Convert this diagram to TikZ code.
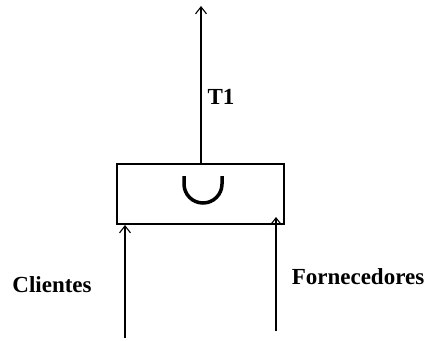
\documentclass[tikz,border=0pt]{standalone}
\usepackage{fontspec}
\setmainfont{Liberation Serif}
\usetikzlibrary{arrows.meta}
\begin{document}
\begin{tikzpicture}[x=1pt,y=-1pt,
  conn/.style={line width=1.1pt,-{Straight Barb[length=7pt,width=11pt,line width=1.1pt]}},
  lbl/.style={font=\bfseries\fontsize{23}{26}\selectfont,inner sep=0pt}]
\useasboundingbox (0,0) rectangle (430,340);
\node[draw,line width=1.3pt,minimum width=167pt,minimum height=60pt,inner sep=0pt] (box) at (200.5,194) {};
\draw[line width=3.5pt] (184,176) -- (184,184) arc[start angle=180,end angle=0,radius=19] -- (222,176);
\coordinate (top) at (201,6);
\coordinate (lb) at (125,338);
\coordinate (lt) at (125,225);
\coordinate (rb) at (276,331);
\coordinate (rt) at (276,217);
\draw[conn] (box.north -| top) -- (top);
\draw[conn] (lb) -- (lt);
\draw[conn] (rb) -- (rt);
\node[lbl] (t1) at (221,97) {T1};
\node[lbl] (cli) at (52,285) {Clientes};
\node[lbl] (forn) at (358,277) {Fornecedores};
\end{tikzpicture}
\end{document}
